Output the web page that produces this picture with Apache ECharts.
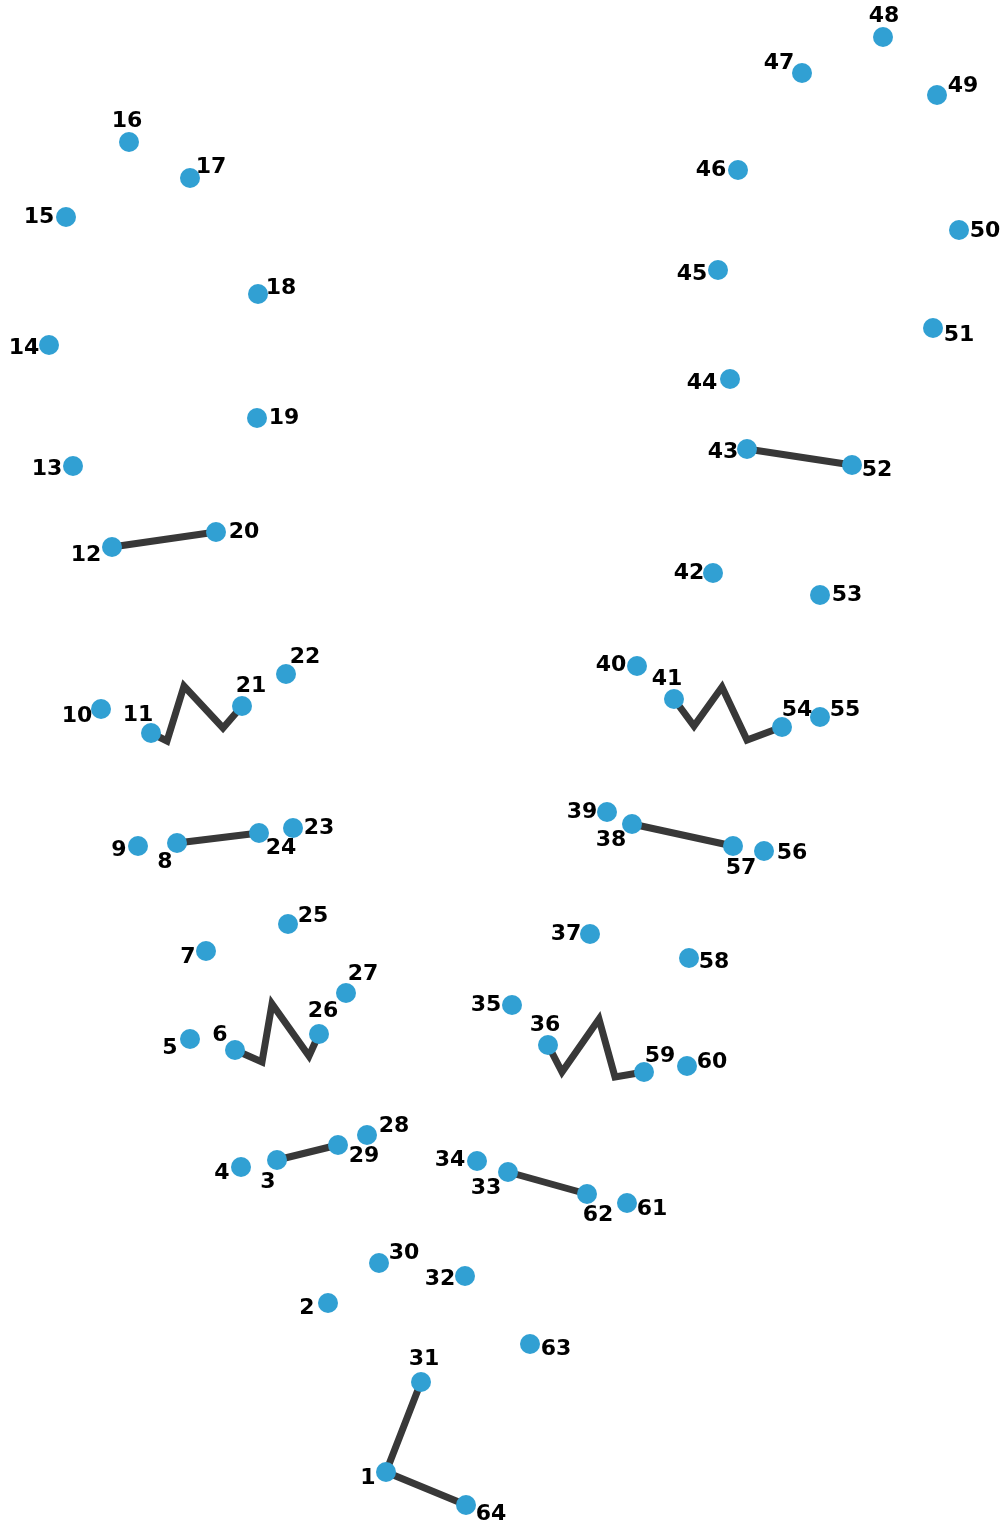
<!DOCTYPE html>
<html>
<head>
<meta charset="utf-8">
<script src="https://cdn.jsdelivr.net/npm/echarts@6/dist/echarts.min.js"></script>
<style>
html,body{margin:0;padding:0;background:#fff;}
#chart{width:1005px;height:1525px;}
</style>
</head>
<body>
<div id="chart"></div>
<script>
// Dot positions (chart units), point n is index n-1
var pointX = [386,328,277,241,190,235,206,177,138,101,151,112,73,49,66,129,190,258,257,216,
              242,286,293,259,288,319,346,367,338,379,421,465,508,477,512,548,590,632,607,637,
              674,713,747,730,718,738,802,883,937,959,933,852,820,782,820,764,733,689,644,687,
              627,587,530,466];
var pointY = [1472,1303,1160,1167,1039,1050,951,843,846,709,733,547,466,345,217,142,178,294,418,532,
              706,674,828,833,924,1034,993,1135,1145,1263,1382,1276,1172,1161,1005,1045,934,824,812,666,
              699,573,449,379,270,170,73,37,95,230,328,465,595,727,717,851,846,958,1072,1066,
              1203,1194,1344,1505];

// Already-drawn strokes: numbers refer to dots, [x,y] pairs are bend points
var strokes = [
  [31, 1, 64],
  [12, 20],
  [11, [167,741], [184,686], [223,728], 21],
  [8, 24],
  [6, [262,1062], [272,1004], [309,1056], 26],
  [3, 29],
  [43, 52],
  [41, [694,726], [722,687], [747,740], 54],
  [38, 57],
  [36, [562,1072], [599,1019], [615,1077], 59],
  [33, 62]
];

// Label placement relative to each dot (style)
var labelOffsets = [
  [-18,6],[-21,5],[-9,22],[-19,6],[-20,9],[-15,-15],[-18,6],[-12,19],[-19,4],[-24,7],
  [-13,-18],[-26,8],[-26,3],[-25,3],[-27,0],[-2,-21],[21,-11],[23,-6],[27,0],[28,0],
  [9,-20],[19,-17],[26,0],[22,15],[25,-8],[4,-23],[17,-19],[27,-9],[26,11],[25,-10],
  [3,-23],[-25,3],[-22,16],[-27,-1],[-26,0],[-3,-20],[-24,0],[-21,16],[-25,0],[-26,-1],
  [-7,-20],[-24,0],[-24,3],[-28,4],[-26,4],[-27,0],[-23,-10],[1,-21],[26,-9],[26,1],
  [26,7],[25,5],[27,0],[15,-17],[25,-7],[28,2],[8,22],[25,4],[16,-16],[25,-4],
  [25,6],[11,21],[26,5],[25,9]
];

var chart = echarts.init(document.getElementById('chart'));

var series = [];
strokes.forEach(function (s) {
  var d = s.map(function (p) {
    if (typeof p === 'number') return [pointX[p - 1], pointY[p - 1]];
    return p;
  });
  series.push({
    type: 'line',
    data: d,
    symbol: 'none',
    silent: true,
    z: 1,
    lineStyle: { color: '#383838', width: 7, cap: 'butt', join: 'miter' },
    animation: false
  });
});

var dots = pointX.map(function (x, i) {
  return {
    value: [x, pointY[i]],
    label: { offset: labelOffsets[i] }
  };
});

series.push({
  type: 'scatter',
  data: dots,
  symbolSize: 20,
  z: 3,
  itemStyle: { color: '#31a0d3', opacity: 1 },
  label: {
    show: true,
    position: 'inside',
    align: 'center',
    verticalAlign: 'middle',
    formatter: function (p) { return String(p.dataIndex + 1); },
    color: '#000',
    fontFamily: 'DejaVu Sans',
    fontWeight: 'bold',
    fontSize: 22
  },
  animation: false
});

chart.setOption({
  backgroundColor: '#ffffff',
  animation: false,
  grid: { left: 0, right: 0, top: 0, bottom: 0 },
  xAxis: { type: 'value', min: 0, max: 1005, show: false },
  yAxis: { type: 'value', min: 0, max: 1525, inverse: true, show: false },
  series: series
});
</script>
</body>
</html>
